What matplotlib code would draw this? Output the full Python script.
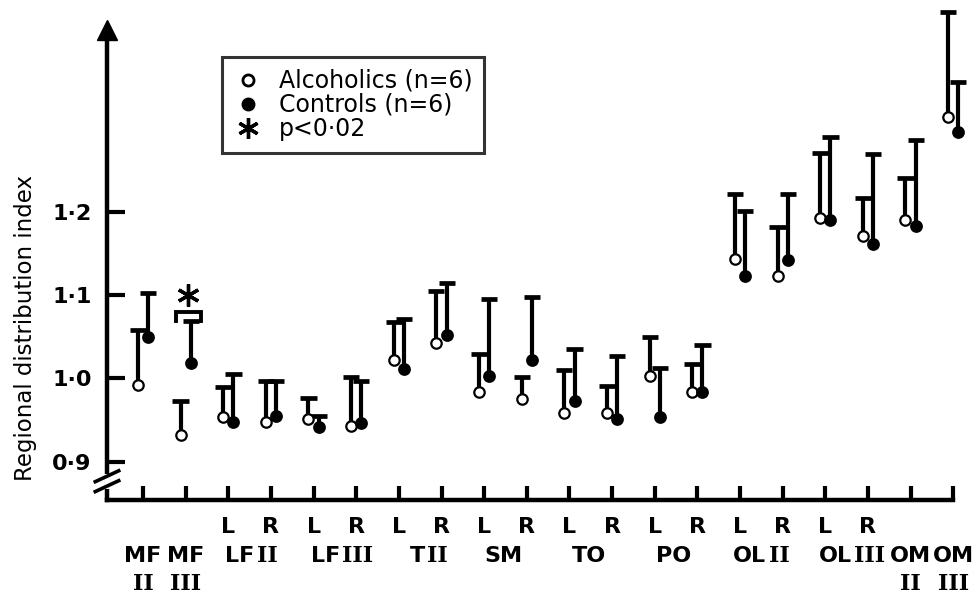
import numpy as np
import matplotlib
matplotlib.use("Agg")
from matplotlib import pyplot as plt
from matplotlib.lines import Line2D
from matplotlib.transforms import blended_transform_factory

# --- data ---
tick_sides = ["", "", "L", "R", "L", "R", "L", "R", "L", "R",
              "L", "R", "L", "R", "L", "R", "L", "R", "", ""]
group_names = ["MF", "MF", "LF", "LF", "T", "SM", "TO", "PO", "OL", "OL", "OM", "OM"]
group_numerals = ["II", "III", "II", "III", "II", "", "", "", "II", "III", "II", "III"]
group_ticks = [[0], [1], [2, 3], [4, 5], [6, 7], [8, 9], [10, 11], [12, 13],
               [14, 15], [16, 17], [18], [19]]

alc_mean = [0.992, 0.932, 0.954, 0.948, 0.951, 0.943, 1.022, 1.042, 0.984, 0.975,
            0.958, 0.958, 1.003, 0.983, 1.143, 1.123, 1.192, 1.171, 1.190, 1.313]
alc_sd = [0.066, 0.041, 0.036, 0.049, 0.025, 0.059, 0.045, 0.063, 0.045, 0.026,
          0.052, 0.033, 0.046, 0.034, 0.078, 0.059, 0.078, 0.045, 0.051, 0.126]
ctrl_mean = [1.049, 1.018, 0.947, 0.955, 0.941, 0.946, 1.011, 1.052, 1.003, 1.022,
             0.973, 0.951, 0.953, 0.983, 1.123, 1.142, 1.190, 1.161, 1.183, 1.295]
ctrl_sd = [0.053, 0.051, 0.058, 0.042, 0.014, 0.051, 0.060, 0.062, 0.092, 0.075,
           0.062, 0.076, 0.059, 0.057, 0.078, 0.079, 0.100, 0.108, 0.103, 0.061]
sig_index = [1]
y_ticks = [0.9, 1.0, 1.1, 1.2]
y_ticklabels = ["0·9", "1·0", "1·1", "1·2"]
legend_labels = ["Alcoholics (n=6)", "Controls (n=6)", "p<0·02"]

SANS = "DejaVu Sans"
SERIF = "DejaVu Serif"
FS = 16

fig = plt.figure(figsize=(9.79, 5.96), dpi=100)
ax = fig.add_axes([107 / 979, 96 / 596, 868 / 979, 495 / 596])
ymin, ymax = 0.854, 1.448
xmin, xmax = -0.844, 19.51
ax.set_ylim(ymin, ymax)
ax.set_xlim(xmin, xmax)

idx = np.arange(len(alc_mean))
off = 0.12
cap = 0.19
xa, xc = idx - off, idx + off
am, asd = np.array(alc_mean), np.array(alc_sd)
cm, csd = np.array(ctrl_mean), np.array(ctrl_sd)

# upper-only SD bars
for x, m, s in [(xa, am, asd), (xc, cm, csd)]:
    ax.vlines(x, m, m + s, color="k", lw=3.0, zorder=2)
    ax.hlines(m + s, x - cap, x + cap, color="k", lw=3.4, zorder=2)
ax.plot(xa, am, "o", ms=7.5, mfc="white", mec="k", mew=1.6, zorder=3, clip_on=False)
ax.plot(xc, cm, "o", ms=8, mfc="k", mec="k", mew=1.2, zorder=3, clip_on=False)

# significance bracket + asterisk
for i in sig_index:
    lo = cm[i] + csd[i]
    ax.plot([i - 0.23, i - 0.23, i + 0.36, i + 0.36], [lo, lo + 0.011, lo + 0.011, lo],
            color="k", lw=2.8, solid_joinstyle="miter")
    ax.plot([i + 0.05], [lo + 0.031], marker=(6, 2, 0), ms=16, mew=2.4, color="k")

# axes styling
for s in ["top", "right"]:
    ax.spines[s].set_visible(False)
ax.spines["left"].set_linewidth(3.2)
ax.spines["bottom"].set_linewidth(3.2)
ax.spines["left"].set_bounds(ymin, 1.415)
ax.spines["bottom"].set_bounds(xmin, 19)
ax.plot([xmin], [1.418], marker="^", ms=14, color="k", clip_on=False)

ax.set_yticks(y_ticks)
ax.set_yticklabels(y_ticklabels, fontsize=FS, family=SANS, fontweight="bold")
ax.set_xticks(idx)
ax.set_xticklabels([])
ax.tick_params(axis="y", direction="in", length=13, width=3, pad=11)
ax.tick_params(axis="x", direction="in", length=10, width=3)

# axis break marks
ax.plot([0, 0], [0.022, 0.052], transform=ax.transAxes, color="white", lw=4,
        clip_on=False, zorder=4, solid_capstyle="butt")
for yc in [0.028, 0.048]:
    ax.plot([-0.0135, 0.0135], [yc - 0.011, yc + 0.011],
            transform=ax.transAxes, color="k", lw=2.6, clip_on=False, zorder=5)

fig.text(0.026, 0.45, "Regional distribution index", rotation=90,
         ha="center", va="center", fontsize=16.5, family=SANS)

# custom category labels
tr = blended_transform_factory(ax.transData, fig.transFigure)
for i, s in enumerate(tick_sides):
    if s:
        ax.text(i, 1 - 527 / 596, s, transform=tr, ha="center", va="center",
                fontsize=FS, family=SANS, fontweight="bold")
row2, row3 = 1 - 556 / 596, 1 - 584 / 596
for name, num, ticks in zip(group_names, group_numerals, group_ticks):
    if len(ticks) == 1:
        t = ticks[0]
        ax.text(t, row2, name, transform=tr, ha="center", va="center",
                fontsize=FS, family=SANS, fontweight="bold")
        ax.text(t, row3, num, transform=tr, ha="center", va="center",
                fontsize=FS, family=SERIF, fontweight="bold")
    elif num:
        b = ticks[0] + 0.62
        ax.text(b, row2, name, transform=tr, ha="right", va="center",
                fontsize=FS, family=SANS, fontweight="bold")
        ax.text(b + 0.05, row2, num, transform=tr, ha="left", va="center",
                fontsize=FS, family=SERIF, fontweight="bold")
    else:
        ax.text(ticks[0] + 0.45, row2, name, transform=tr, ha="center", va="center",
                fontsize=FS, family=SANS, fontweight="bold")

handles = [
    Line2D([], [], ls="none", marker="o", ms=8, mfc="white", mec="k", mew=2),
    Line2D([], [], ls="none", marker="o", ms=9, mfc="k", mec="k"),
    Line2D([], [], ls="none", marker=(6, 2, 0), ms=15, mew=2.4, color="k"),
]
leg = ax.legend(handles, legend_labels, loc="upper left",
                bbox_to_anchor=(0.1325, 0.895), borderaxespad=0,
                frameon=True, fancybox=False, edgecolor="k", handlelength=1.2,
                handletextpad=0.7, labelspacing=0.0, borderpad=0.5,
                prop={"family": SANS, "size": 17})
leg.get_frame().set_linewidth(2.2)

fig.savefig("out.png", dpi=100, facecolor="white")
